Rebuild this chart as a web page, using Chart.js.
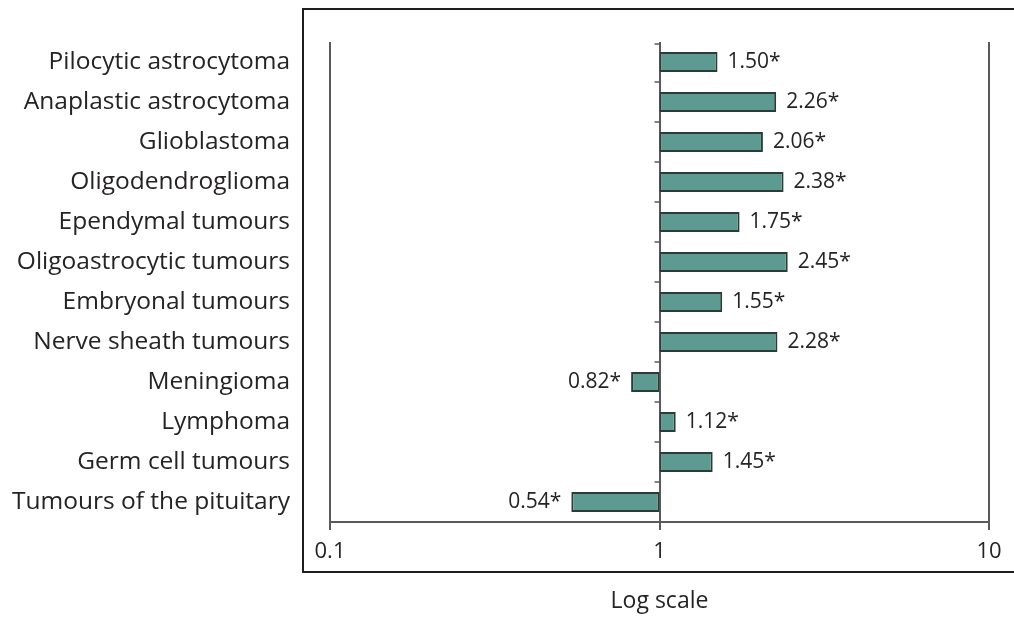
<!DOCTYPE html>
<html>
<head>
<meta charset="utf-8">
<script src="https://cdn.jsdelivr.net/npm/chart.js@4"></script>
<style>
  body { margin: 0; background: #fff; }
  #wrap { width: 1014px; height: 617px; }
</style>
</head>
<body>
<div id="wrap"><canvas id="chart" width="1014" height="617"></canvas></div>
<script>
const categories = [
    'Pilocytic astrocytoma',
    'Anaplastic astrocytoma',
    'Glioblastoma',
    'Oligodendroglioma',
    'Ependymal tumours',
    'Oligoastrocytic tumours',
    'Embryonal tumours',
    'Nerve sheath tumours',
    'Meningioma',
    'Lymphoma',
    'Germ cell tumours',
    'Tumours of the pituitary'
];
const ratios = [1.50, 2.26, 2.06, 2.38, 1.75, 2.45, 1.55, 2.28, 0.82, 1.12, 1.45, 0.54];
const xTicks = [0.1, 1, 10];
const axisTitle = 'Log scale';

const fontFamily = '"Open Sans", "DejaVu Sans", sans-serif';
const textColor = '#262324';
const lineColor = '#5a5a5a';

// outer frame around the plot (open on the right, like the original)
const framePlugin = {
    id: 'frame',
    beforeDraw(chart) {
        const ctx = chart.ctx;
        ctx.save();
        ctx.strokeStyle = '#1e1e1e';
        ctx.lineWidth = 2;
        ctx.beginPath();
        ctx.moveTo(1020, 9);
        ctx.lineTo(303, 9);
        ctx.lineTo(303, 572);
        ctx.lineTo(1020, 572);
        ctx.stroke();
        ctx.restore();
    }
};

// small hooks on the reference line at 1, one per category boundary
const hookPlugin = {
    id: 'hooks',
    afterDraw(chart) {
        const ctx = chart.ctx;
        const x = chart.scales.x.getPixelForValue(1);
        const y = chart.scales.y;
        ctx.save();
        ctx.strokeStyle = lineColor;
        ctx.lineWidth = 1.5;
        for (let i = 0; i < categories.length; i++) {
            const top = i === 0 ? chart.chartArea.top + 2
                : (y.getPixelForValue(i - 1) + y.getPixelForValue(i)) / 2;
            ctx.beginPath();
            ctx.moveTo(x - 5, top);
            ctx.lineTo(x, top);
            ctx.stroke();
        }
        ctx.restore();
    }
};

// value labels at the end of each bar
const valueLabelPlugin = {
    id: 'valueLabels',
    afterDatasetsDraw(chart) {
        const ctx = chart.ctx;
        const xs = chart.scales.x;
        const ys = chart.scales.y;
        ctx.save();
        ctx.font = '21px ' + fontFamily;
        ctx.fillStyle = textColor;
        ctx.textBaseline = 'middle';
        ratios.forEach((v, i) => {
            const px = xs.getPixelForValue(v);
            const py = ys.getPixelForValue(i);
            const txt = v.toFixed(2) + '*';
            if (v >= 1) {
                ctx.textAlign = 'left';
                ctx.fillText(txt, px + 10, py);
            } else {
                ctx.textAlign = 'right';
                ctx.fillText(txt, px - 10, py);
            }
        });
        ctx.restore();
    }
};

new Chart(document.getElementById('chart'), {
    type: 'bar',
    data: {
        labels: categories,
        datasets: [{
            data: ratios.map(v => [1, v]),
            backgroundColor: '#5c9a92',
            borderColor: '#2a3b38',
            borderWidth: 2,
            borderSkipped: false,
            barPercentage: 0.5,
            categoryPercentage: 1
        }]
    },
    options: {
        indexAxis: 'y',
        responsive: false,
        animation: false,
        layout: { padding: { top: 42, right: 25, left: 0, bottom: 0 } },
        plugins: {
            legend: { display: false },
            tooltip: { enabled: false }
        },
        scales: {
            x: {
                type: 'logarithmic',
                position: 'bottom',
                min: 0.1,
                max: 10,
                afterBuildTicks: scale => {
                    scale.ticks = xTicks.map(v => ({ value: v }));
                },
                afterFit: scale => { scale.height = 95; },
                ticks: {
                    callback: v => String(v),
                    font: { family: fontFamily, size: 22 },
                    color: textColor,
                    padding: 9,
                    maxRotation: 0,
                    autoSkip: false
                },
                grid: {
                    color: lineColor,
                    lineWidth: 2,
                    tickLength: 8,
                    drawOnChartArea: true
                },
                border: { display: true, color: lineColor, width: 2 },
                title: {
                    display: true,
                    text: axisTitle,
                    font: { family: fontFamily, size: 23 },
                    color: textColor,
                    padding: { top: 0, bottom: 2 }
                }
            },
            y: {
                afterFit: scale => {
                    scale.width = 330;
                    scale.paddingTop = 0;
                    scale.paddingBottom = 0;
                },
                ticks: {
                    font: { family: fontFamily, size: 24.5 },
                    color: textColor,
                    padding: 40,
                    autoSkip: false
                },
                grid: { display: false, drawTicks: false },
                border: { display: false }
            }
        }
    },
    plugins: [framePlugin, hookPlugin, valueLabelPlugin]
});
</script>
</body>
</html>
